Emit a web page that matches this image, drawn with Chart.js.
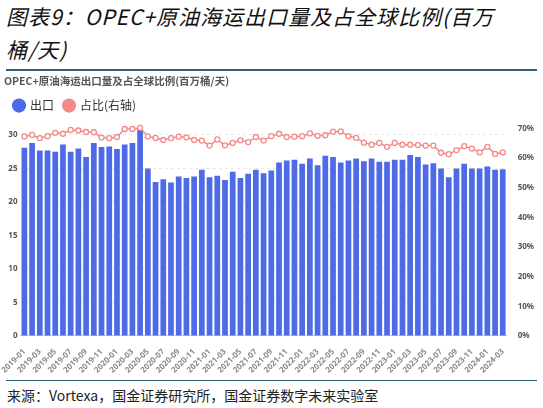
<!DOCTYPE html>
<html><head><meta charset="utf-8">
<script src="https://cdn.jsdelivr.net/npm/chart.js@4"></script>
<style>
body{margin:0;width:543px;height:408px;background:#fff;font-family:"Noto Sans CJK SC","Noto Sans",sans-serif;position:relative;overflow:hidden}
#t{position:absolute;left:6px;top:0px;width:500px;font-size:21px;line-height:33px;font-style:italic;color:#111;letter-spacing:1px}
#l1{position:absolute;left:6px;right:6px;top:69px;height:2px;background:#2f5f7a}
#l2{position:absolute;left:6px;right:6px;top:380px;height:1px;background:#2f5f7a}
#s{position:absolute;left:7px;top:385px;font-size:14px;color:#222}
#w{position:absolute;left:0;top:72px;width:543px;height:306px}
</style></head><body>
<div id="t">图表9：OPEC+原油海运出口量及占全球比例(百万桶/天)</div>
<div id="l1"></div>
<div id="w"><canvas id="c"></canvas></div>
<div id="l2"></div>
<div id="s">来源：Vortexa，国金证券研究所，国金证券数字未来实验室</div>
<script>
const months=[];
for(let y=2019;y<=2024;y++)for(let m=1;m<=12;m++){if(y===2024&&m>3)break;months.push(y+'-'+String(m).padStart(2,'0'));}
const exports=[28.1,28.8,27.7,27.7,27.5,28.6,27.5,28.0,26.7,28.8,28.2,28.3,27.9,28.6,28.8,31.1,25.0,23.0,23.4,22.9,23.8,23.6,23.8,24.8,23.7,23.9,23.3,24.5,23.6,24.2,24.8,24.3,24.7,25.9,26.2,26.3,25.7,26.5,25.5,26.9,26.7,25.9,26.2,26.5,26.1,26.5,26.0,26.0,26.3,26.3,27.0,26.7,25.6,25.8,25.0,23.7,25.0,25.7,25.0,25.0,25.3,24.8,24.9];
const share=[67.3,67.8,66.7,67.4,68.5,68.2,69.5,69.3,68.8,68.7,66.9,66.7,67.1,69.8,69.8,70.2,67.3,66.8,66.1,66.7,67.2,67.0,66.1,65.9,64.2,66.3,64.3,65.1,66.0,65.4,67.1,65.9,67.4,68.2,67.1,67.2,67.4,68.3,67.5,67.7,68.9,69.0,67.4,66.8,65.2,64.5,65.1,63.8,65.1,64.5,64.5,64.4,64.2,64.2,61.8,61.3,62.7,64.0,63.2,61.9,63.8,61.4,61.9];
const tickFont={size:8,weight:'bold',family:'Noto Sans'};
const legendColors=['#4e6ae6','#f28a8a'];
new Chart(document.getElementById('c'),{
data:{labels:months,datasets:[
{type:'line',label:'占比(右轴)',data:share,yAxisID:'y1',borderColor:'#f28a8a',backgroundColor:'#fff',pointBorderColor:'#f28a8a',pointBackgroundColor:'#fff',pointRadius:2.5,pointBorderWidth:1.3,borderWidth:1.5,tension:0,order:0},
{type:'bar',label:'出口',data:exports,yAxisID:'y',backgroundColor:'#4e6ae6',categoryPercentage:0.74,barPercentage:1,order:1}
]},
options:{responsive:true,maintainAspectRatio:false,animation:false,
layout:{padding:{left:4,right:6,top:0,bottom:0}},
plugins:{
title:{display:true,text:'OPEC+原油海运出口量及占全球比例(百万桶/天)',align:'start',color:'#555',font:{size:10.5,weight:'bold',family:'Noto Sans CJK SC'},padding:{top:3,bottom:2}},
legend:{align:'start',labels:{usePointStyle:true,pointStyle:'circle',boxWidth:10,boxHeight:10,color:'#333',font:{size:12,family:'Noto Sans CJK SC'},padding:10,
 generateLabels:function(chart){return [{text:'出口',fillStyle:legendColors[0],strokeStyle:legendColors[0],pointStyle:'circle',datasetIndex:1,lineWidth:0,fontColor:'#333'},{text:'占比(右轴)',fillStyle:legendColors[1],strokeStyle:legendColors[1],pointStyle:'circle',datasetIndex:0,lineWidth:0,fontColor:'#333'}];}}
 },
},
scales:{
x:{grid:{display:false},border:{color:'#ccc'},ticks:{autoSkip:false,maxRotation:45,minRotation:45,color:'#888',font:tickFont,callback:function(v,i){return i%2===0?months[i]:'';}}},
y:{min:0,max:32,afterBuildTicks:a=>{a.ticks=[0,5,10,15,20,25,30].map(v=>({value:v}));},ticks:{color:'#555',font:tickFont},grid:{color:'#e8e8e8',drawTicks:false},border:{display:false,dash:[3,3]}},
y1:{position:'right',min:0,max:72.3,afterBuildTicks:a=>{a.ticks=[0,10,20,30,40,50,60,70].map(v=>({value:v}));},ticks:{color:'#555',font:tickFont,callback:v=>v+'%'},grid:{display:false},border:{display:false}}
}}});
</script>
</body></html>
